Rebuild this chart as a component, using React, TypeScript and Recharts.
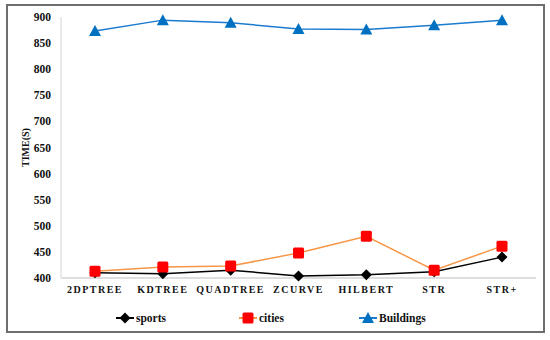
import { LineChart, Line, XAxis, YAxis, Legend } from "recharts";

const categories = ["2DPTREE", "KDTREE", "QUADTREE", "ZCURVE", "HILBERT", "STR", "STR+"];
const sports = [410, 408, 415, 404, 406, 412, 440];
const cities = [413, 421, 423, 448, 480, 415, 461];
const buildings = [873, 894, 889, 877, 876, 884, 894];
const yTicks = [400, 450, 500, 550, 600, 650, 700, 750, 800, 850, 900];

const data = categories.map((name, i) => ({
  name,
  sports: sports[i],
  cities: cities[i],
  buildings: buildings[i],
}));

const FONT = "'Liberation Serif', 'DejaVu Serif', serif";

// eslint-disable-next-line @typescript-eslint/no-explicit-any
function Diamond({ cx, cy }: any) {
  if (cx == null || cy == null) return null;
  const r = 5.5;
  return <path d={`M${cx},${cy - r}L${cx + r},${cy}L${cx},${cy + r}L${cx - r},${cy}Z`} fill="#000" />;
}

// eslint-disable-next-line @typescript-eslint/no-explicit-any
function Square({ cx, cy }: any) {
  if (cx == null || cy == null) return null;
  return <rect x={cx - 5.5} y={cy - 5.5} width={11} height={11} rx={1.5} fill="#ff0000" />;
}

// eslint-disable-next-line @typescript-eslint/no-explicit-any
function Triangle({ cx, cy }: any) {
  if (cx == null || cy == null) return null;
  return <path d={`M${cx},${cy - 6}L${cx + 6},${cy + 5}L${cx - 6},${cy + 5}Z`} fill="#0070c0" />;
}

const legendItems = [
  { label: "sports", color: "#000", Mark: Diamond, x: 125 },
  { label: "cities", color: "#f79646", Mark: Square, x: 248 },
  { label: "Buildings", color: "#1a7bd0", Mark: Triangle, x: 368 },
];

function CustomLegend() {
  return (
    <svg width={550} height={20} style={{ display: "block", overflow: "visible" }}>
      {legendItems.map(({ label, color, Mark, x }) => (
        <g key={label}>
          <line x1={x - 9} x2={x + 9} y1={10} y2={10} stroke={color} strokeWidth={2} />
          <Mark cx={x} cy={10} />
          <text x={x + 11} y={14} fontFamily={FONT} fontWeight="bold" fontSize={11.5} fill="#111">
            {label}
          </text>
        </g>
      ))}
    </svg>
  );
}

export default function App() {
  return (
    <div style={{ position: "relative", width: 550, height: 340, background: "#fff" }}>
      <style>{"html,body{margin:0;padding:0;}"}</style>
      <div style={{ position: "absolute", left: 0, top: 0 }}>
        <LineChart
          width={550}
          height={340}
          data={data}
          margin={{ top: 17, right: 14, left: 0, bottom: 12 }}
        >
          <XAxis
            dataKey="name"
            padding={{ left: 34, right: 34 }}
            axisLine={{ stroke: "#dedede", strokeWidth: 2 }}
            tickLine={false}
            tick={{
              fontFamily: FONT,
              fontWeight: "bold",
              fontSize: 10,
              fill: "#111",
              letterSpacing: 1.5,
            }}
            tickMargin={2}
          />
          <YAxis
            width={61}
            domain={[400, 900]}
            ticks={yTicks}
            interval={0}
            axisLine={{ stroke: "#e3e3e3", strokeWidth: 1.5 }}
            tickLine={false}
            tick={{ fontFamily: FONT, fontWeight: "bold", fontSize: 11.5, fill: "#111" }}
            tickMargin={4}
            label={{
              value: "TIME(S)",
              angle: -90,
              position: "insideLeft",
              offset: 25,
              style: { fontFamily: FONT, fontWeight: "bold", fontSize: 10, fill: "#111", textAnchor: "middle" },
            }}
          />
          <Legend
            verticalAlign="bottom"
            content={<CustomLegend />}
            wrapperStyle={{ left: 0, bottom: 12, width: 550 }}
          />
          <Line
            dataKey="sports"
            stroke="#000"
            strokeWidth={1.5}
            dot={<Diamond />}
            activeDot={false}
            isAnimationActive={false}
          />
          <Line
            dataKey="cities"
            stroke="#f79646"
            strokeWidth={1.5}
            dot={<Square />}
            activeDot={false}
            isAnimationActive={false}
          />
          <Line
            dataKey="buildings"
            stroke="#1a7bd0"
            strokeWidth={1.5}
            dot={<Triangle />}
            activeDot={false}
            isAnimationActive={false}
          />
        </LineChart>
      </div>
      <svg
        width={550}
        height={340}
        style={{ position: "absolute", left: 0, top: 0, pointerEvents: "none" }}
      >
        <rect x={7} y={5} width={537} height={327} fill="none" stroke="#6e6e6e" strokeWidth={2} />
      </svg>
    </div>
  );
}
